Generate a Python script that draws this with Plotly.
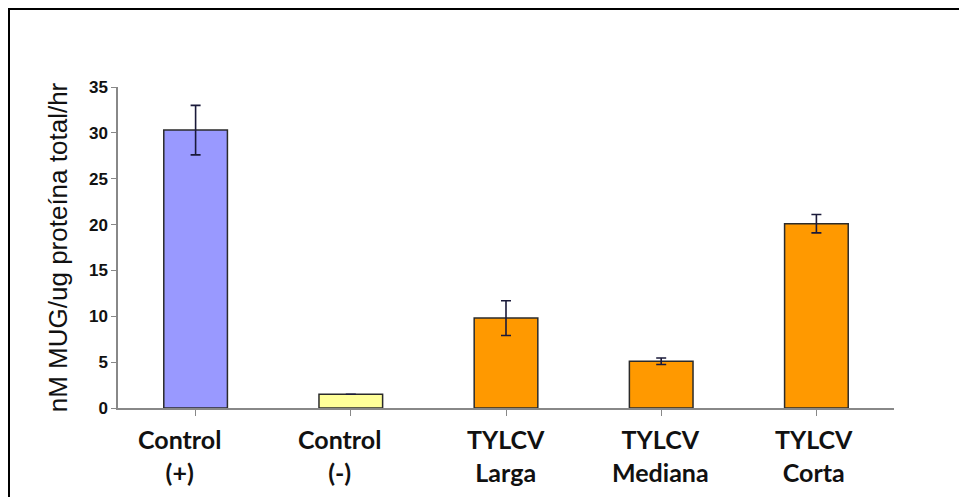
import plotly.graph_objects as go

categories = ["Control<br>(+)", "Control<br>(-)", "TYLCV<br>Larga", "TYLCV<br>Mediana", "TYLCV<br>Corta"]
values = [30.3, 1.5, 9.8, 5.1, 20.1]
errors = [2.7, None, 1.9, 0.35, 1.0]
colors = ["#9999FF", "#FFFF99", "#FF9900", "#FF9900", "#FF9900"]
y_ticks = [0, 5, 10, 15, 20, 25, 30, 35]

# style: horizontal pixel nudge of each category label (as in the original image)
label_xshift = [-16, -11, 0, -1, -2]

fig = go.Figure()
fig.add_trace(go.Bar(
    x=list(range(len(categories))),
    y=values,
    width=0.41,
    marker=dict(color=colors, line=dict(color="#2b2b2b", width=1.5)),
    error_y=dict(type="data", array=errors, visible=True, color="#1a1a3a", thickness=1.6, width=5),
))

OFF = 8  # page body margin
W, H = 967 - OFF, 497 - OFF
L, T = 118 - OFF, 87 - OFF
R = W - (894 - OFF)
B = H - (408 - OFF)
pw = W - L - R
ph = H - T - B

fig.update_layout(
    width=W, height=H,
    margin=dict(l=L, r=R, t=T, b=B, pad=0, autoexpand=False),
    paper_bgcolor="white", plot_bgcolor="white",
    showlegend=False,
    xaxis=dict(
        range=[-0.5, 4.5], automargin=False,
        tickmode="array", tickvals=list(range(len(categories))), ticktext=[""] * len(categories),
        tickson="boundaries", ticks="outside", ticklen=6, tickcolor="#888888", tickwidth=1.2,
        showline=True, linecolor="#888888", linewidth=1.5,
        showgrid=False, zeroline=False,
    ),
    yaxis=dict(
        range=[0, 35], automargin=False,
        tickvals=y_ticks,
        ticks="outside", ticklen=5, tickcolor="#888888", tickwidth=1.2,
        showline=True, linecolor="#888888", linewidth=1.5,
        showgrid=False, zeroline=False,
        tickfont=dict(family="Liberation Sans", size=17, color="#111111", weight="bold"),
        title=dict(text="nM MUG/ug proteína total/hr", font=dict(family="Liberation Sans", size=26, color="#111111"), standoff=14),
    ),
)

for i, (cat, dx) in enumerate(zip(categories, label_xshift)):
    fig.add_annotation(
        x=i, y=0, xref="x", yref="y", text=cat, showarrow=False,
        xanchor="center", yanchor="top", xshift=dx, yshift=-14, align="center",
        font=dict(family="Lato", size=25, color="#111111", weight="bold"),
    )

fig.add_shape(
    type="rect", xref="paper", yref="paper",
    x0=(1 - L) / pw, x1=(962 - OFF - L) / pw,
    y0=(H - B - 540) / ph, y1=(H - B - 1) / ph,
    line=dict(color="black", width=2), fillcolor="rgba(0,0,0,0)", layer="above",
)

fig.write_html("out.html")
